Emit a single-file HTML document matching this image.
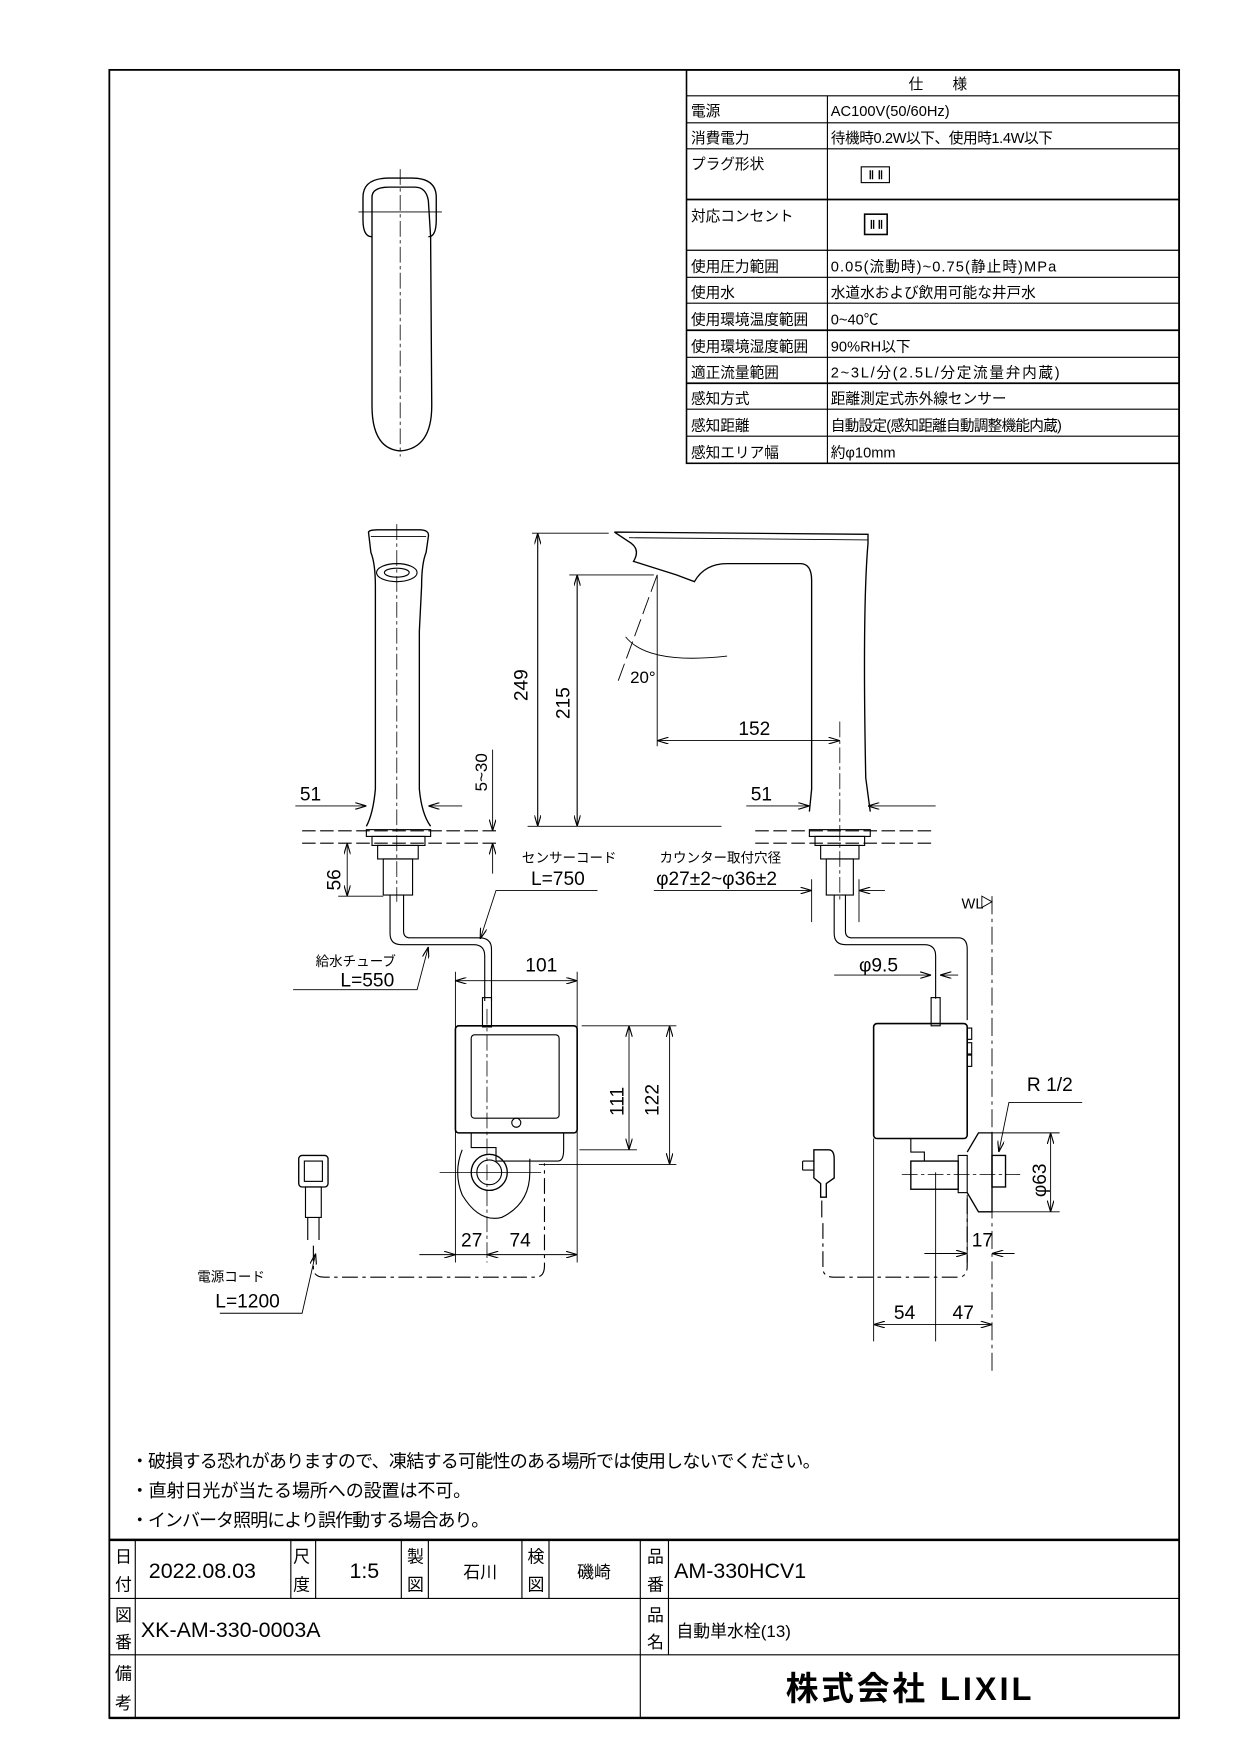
<!DOCTYPE html>
<html><head><meta charset="utf-8"><style>
html,body{margin:0;padding:0;background:#fff}
svg{display:block}
text{font-family:"Liberation Sans Narrow","Liberation Sans","Noto Sans CJK JP",sans-serif;fill:#000}
.j{font-family:"Liberation Sans","Noto Sans CJK JP",sans-serif}
</style></head><body>
<svg width="1240" height="1754" viewBox="0 0 1100 1556" preserveAspectRatio="none" xmlns="http://www.w3.org/2000/svg">
<defs>
<marker id="a" viewBox="0 0 10 6" refX="10" refY="3" markerWidth="10" markerHeight="6" orient="auto-start-reverse" markerUnits="userSpaceOnUse"><path d="M0,0 L10,3 L0,6" fill="none" stroke="#000" stroke-width="1"/></marker>
</defs>
<g fill="none" stroke="#000">
<rect x="97" y="62" width="949" height="1462" stroke-width="1.6"/>
<rect x="609" y="62" width="437" height="349" stroke-width="1.4"/>
<line x1="734" y1="85" x2="734" y2="411" stroke-width="1"/>
<g stroke-width="1">
<line x1="609" y1="85" x2="1046" y2="85"/><line x1="609" y1="109" x2="1046" y2="109"/>
<line x1="609" y1="132" x2="1046" y2="132"/><line x1="609" y1="177" x2="1046" y2="177" stroke-width="1.6"/>
<line x1="609" y1="222" x2="1046" y2="222"/><line x1="609" y1="246" x2="1046" y2="246"/>
<line x1="609" y1="269" x2="1046" y2="269"/><line x1="609" y1="293" x2="1046" y2="293" stroke-width="1.6"/>
<line x1="609" y1="317" x2="1046" y2="317"/><line x1="609" y1="340" x2="1046" y2="340" stroke-width="1.6"/>
<line x1="609" y1="363" x2="1046" y2="363"/><line x1="609" y1="387" x2="1046" y2="387"/>
</g>
<rect x="764" y="148" width="25" height="14"/><rect x="767" y="190" width="20" height="18" stroke-width="1.4"/>
<path d="M772,151 V159 M774,151 V159 M780,151 V159 M782,151 V159 M773,195 V203 M775,195 V203 M780,195 V203 M782,195 V203" stroke-width="1.2"/>
<line x1="97" y1="1366" x2="1046" y2="1366" stroke-width="2.2"/>
<line x1="97" y1="1418" x2="1046" y2="1418"/><line x1="97" y1="1468" x2="1046" y2="1468"/>
<line x1="97" y1="1524" x2="1046" y2="1524" stroke-width="2.2"/>
<line x1="120" y1="1366" x2="120" y2="1524"/>
<line x1="258" y1="1366" x2="258" y2="1418"/><line x1="280" y1="1366" x2="280" y2="1418"/>
<line x1="356" y1="1366" x2="356" y2="1418"/><line x1="380" y1="1366" x2="380" y2="1418"/>
<line x1="463" y1="1366" x2="463" y2="1418"/><line x1="487" y1="1366" x2="487" y2="1418"/>
<line x1="568" y1="1366" x2="568" y2="1524"/><line x1="593" y1="1366" x2="593" y2="1468"/>

<!-- top view -->
<path d="M330,210 Q322,210 322,195 L322,175 Q322,158 345,158 L365,158 Q387,158 387,175 L387,195 Q387,210 380,210" stroke-width="1.2"/>
<path d="M330,175 Q330,166 345,166 L368,166 Q378,166 380,178 L382,210 L383,360 Q383,398 355,400 Q330,398 330,360 Z" stroke-width="1.2"/>
<line x1="355" y1="150" x2="355" y2="405" stroke-width="0.7" stroke-dasharray="14,3,3,3"/>
<line x1="318" y1="188" x2="392" y2="188" stroke-width="0.7"/>
<!-- front view left -->
<path d="M327,473 Q326,470 335,470 L372,470 Q381,470 380,476 L378,490 Q374,500 374,520 L372,560 L372,700 Q374,722 382,733 M327,473 L329,490 Q333,500 333,520 L333,700 Q331,722 325,733" stroke-width="1.2"/>
<line x1="329" y1="476" x2="378" y2="476" stroke-width="0.8"/>
<ellipse cx="352" cy="508" rx="18" ry="8" stroke-width="1"/><ellipse cx="352" cy="508" rx="11" ry="4"/>
<line x1="352" y1="465" x2="352" y2="800" stroke-width="0.7" stroke-dasharray="14,3,3,3"/>
<rect x="325" y="736" width="57" height="6"/><rect x="330" y="742" width="47" height="8"/>
<rect x="335" y="750" width="36" height="12"/><rect x="340" y="762" width="26" height="32"/>
<path d="M268,737 H440 M268,748 H440" stroke-dasharray="12,4" stroke-width="1"/>
<path d="M670,737 H830 M670,748 H830" stroke-dasharray="12,4" stroke-width="1"/>
<path d="M346,794 V828 Q346,838 356,838 H420 Q430,838 430,848 V888 M358,794 V826 Q358,832 364,832 H425 Q436,832 436,842 V888" stroke-width="1"/>
<rect x="428" y="885" width="8" height="26"/>
<rect x="404" y="910" width="108" height="95" rx="3" stroke-width="1.4"/>
<rect x="418" y="918" width="78" height="74" rx="3"/>
<circle cx="458" cy="996" r="4"/>
<path d="M418,1005 V1018 H440 V1030 H495 Q500,1030 500,1020 V1005"/>
<circle cx="434" cy="1040" r="16" stroke-width="1.2"/><circle cx="434" cy="1040" r="11"/>
<path d="M410,1020 Q402,1040 410,1060 Q425,1085 445,1080 Q470,1068 470,1040 V1028"/>
<line x1="432" y1="895" x2="432" y2="1120" stroke-width="0.7" stroke-dasharray="14,3,3,3"/>
<line x1="390" y1="1040" x2="480" y2="1040" stroke-width="0.7"/>
<rect x="265" y="1025" width="26" height="28" rx="3" stroke-width="1.2"/>
<rect x="270" y="1030" width="16" height="18"/>
<path d="M271,1053 H285 V1080 H271 Z M273,1080 V1100 M283,1080 V1100" stroke-width="1"/>
<path d="M278,1105 V1125 Q278,1133 288,1133 H475 Q483,1133 483,1123 V1032" stroke-width="1" stroke-dasharray="14,4,3,4"/>
<line x1="262" y1="715" x2="325" y2="715" stroke-width="0.8" marker-end="url(#a)"/>
<line x1="410" y1="715" x2="380" y2="715" stroke-width="0.8" marker-end="url(#a)"/>
<line x1="437" y1="665" x2="437" y2="737" stroke-width="0.8" marker-end="url(#a)"/>
<line x1="437" y1="775" x2="437" y2="748" stroke-width="0.8" marker-end="url(#a)"/>
<line x1="308" y1="748" x2="308" y2="795" stroke-width="0.8" marker-start="url(#a)" marker-end="url(#a)"/>
<line x1="300" y1="795" x2="340" y2="795" stroke-width="0.8"/>
<path d="M530,790 H440 L426,833" stroke-width="0.8" marker-end="url(#a)"/>
<path d="M260,878 H370 L380,840" stroke-width="0.8" marker-end="url(#a)"/>
<line x1="404" y1="870" x2="512" y2="870" stroke-width="0.8" marker-start="url(#a)" marker-end="url(#a)"/>
<line x1="404" y1="862" x2="404" y2="1120" stroke-width="0.8"/><line x1="512" y1="862" x2="512" y2="1120" stroke-width="0.8"/>
<line x1="516" y1="910" x2="600" y2="910" stroke-width="0.8"/>
<line x1="514" y1="1020" x2="565" y2="1020" stroke-width="0.8"/><line x1="478" y1="1033" x2="600" y2="1033" stroke-width="0.8"/>
<line x1="558" y1="910" x2="558" y2="1020" stroke-width="0.8" marker-start="url(#a)" marker-end="url(#a)"/>
<line x1="594" y1="910" x2="594" y2="1033" stroke-width="0.8" marker-start="url(#a)" marker-end="url(#a)"/>
<line x1="372" y1="1113" x2="404" y2="1113" stroke-width="0.8" marker-end="url(#a)"/>
<line x1="432" y1="1113" x2="512" y2="1113" stroke-width="0.8" marker-start="url(#a)" marker-end="url(#a)"/>
<line x1="404" y1="1113" x2="432" y2="1113" stroke-width="0.8"/>
<path d="M195,1165 H268 L280,1112" stroke-width="0.8" marker-end="url(#a)"/>
<line x1="472" y1="473" x2="540" y2="473" stroke-width="0.8"/>
<line x1="505" y1="510" x2="580" y2="510" stroke-width="0.8"/>
<line x1="468" y1="733" x2="640" y2="733" stroke-width="0.8"/>
<line x1="477" y1="473" x2="477" y2="733" stroke-width="1" marker-start="url(#a)" marker-end="url(#a)"/>
<line x1="512" y1="510" x2="512" y2="733" stroke-width="1" marker-start="url(#a)" marker-end="url(#a)"/>
<!-- right faucet -->
<path d="M545,472 L770,474 L770,482 Q765,540 768,690 L772,720 M545,472 L560,482 Q568,488 562,498 L600,510 L616,516 Q625,500 645,500 L710,500 Q720,500 720,515 L720,700 L718,720" stroke-width="1.2"/>
<line x1="558" y1="477" x2="770" y2="479" stroke-width="0.8"/>
<line x1="583" y1="510" x2="583" y2="662" stroke-width="0.8"/>
<path d="M583,510 L548,605" stroke-width="0.8" stroke-dasharray="16,5"/>
<path d="M555,565 Q575,590 645,582" stroke-width="0.8"/>
<line x1="583" y1="657" x2="745" y2="657" stroke-width="0.8" marker-start="url(#a)" marker-end="url(#a)"/>
<line x1="745" y1="640" x2="745" y2="800" stroke-width="0.7" stroke-dasharray="14,3,3,3"/>
<rect x="718" y="736" width="54" height="6"/><rect x="723" y="742" width="44" height="8"/>
<rect x="728" y="750" width="34" height="12"/><rect x="733" y="762" width="24" height="32"/>
<line x1="662" y1="715" x2="718" y2="715" stroke-width="0.8" marker-end="url(#a)"/>
<line x1="830" y1="715" x2="770" y2="715" stroke-width="0.8" marker-end="url(#a)"/>
<line x1="580" y1="790" x2="720" y2="790" stroke-width="0.8" marker-end="url(#a)"/>
<line x1="720" y1="780" x2="720" y2="818" stroke-width="0.8"/><line x1="762" y1="780" x2="762" y2="818" stroke-width="0.8"/>
<line x1="785" y1="790" x2="762" y2="790" stroke-width="0.8" marker-end="url(#a)"/>
<path d="M740,794 V828 Q740,838 750,838 H820 Q830,838 830,848 V886 M750,794 V826 Q750,832 756,832 H850 Q858,832 858,842 V905" stroke-width="1"/>
<line x1="740" y1="865" x2="826" y2="865" stroke-width="0.8" marker-end="url(#a)"/>
<line x1="850" y1="865" x2="834" y2="865" stroke-width="0.8" marker-end="url(#a)"/>
<rect x="826" y="885" width="8" height="25"/>
<rect x="775" y="908" width="83" height="102" rx="3" stroke-width="1.4"/>
<rect x="858" y="912" width="4" height="10"/><rect x="858" y="925" width="4" height="10"/><rect x="858" y="936" width="4" height="10"/>
<path d="M808,1010 V1022 H820 V1030"/>
<rect x="808" y="1030" width="42" height="25" stroke-width="1.2"/>
<rect x="850" y="1025" width="8" height="33"/>
<path d="M858,1022 L868,1005 L880,1005 L880,1075 L868,1075 L858,1058" stroke-width="1.2"/>
<rect x="880" y="1025" width="12" height="28" stroke-width="1.2"/>
<line x1="800" y1="1042" x2="905" y2="1042" stroke-width="0.7" stroke-dasharray="14,3,3,3"/>
<path d="M712,1030 H722 M712,1038 H722 M712,1030 V1038" stroke-width="1"/>
<path d="M722,1020 H735 Q740,1020 740,1028 V1045 L733,1050 V1062 H728 V1050 L722,1045 Z" stroke-width="1.2"/>
<path d="M729,1065 V1080" stroke-width="1"/>
<path d="M730,1085 V1125 Q730,1133 740,1133 H850 Q858,1133 858,1123 V1060" stroke-width="1" stroke-dasharray="14,4,3,4"/>
<line x1="880" y1="795" x2="880" y2="1220" stroke-width="0.8" stroke-dasharray="16,4,3,4"/>
<path d="M871,795 L880,800 L871,805 Z" stroke-width="0.8"/>
<line x1="775" y1="1010" x2="775" y2="1190" stroke-width="0.8"/>
<line x1="830" y1="1040" x2="830" y2="1190" stroke-width="0.8"/>
<line x1="858" y1="1060" x2="858" y2="1120" stroke-width="0.8"/>
<line x1="775" y1="1175" x2="880" y2="1175" stroke-width="0.8" marker-start="url(#a)" marker-end="url(#a)"/>
<line x1="820" y1="1112" x2="858" y2="1112" stroke-width="0.8" marker-end="url(#a)"/>
<line x1="900" y1="1112" x2="880" y2="1112" stroke-width="0.8" marker-end="url(#a)"/>
<line x1="880" y1="1005" x2="940" y2="1005" stroke-width="0.8"/><line x1="880" y1="1075" x2="940" y2="1075" stroke-width="0.8"/>
<line x1="932" y1="1005" x2="932" y2="1075" stroke-width="0.8" marker-start="url(#a)" marker-end="url(#a)"/>
<path d="M960,978 H895 L886,1022" stroke-width="0.8" marker-end="url(#a)"/>
</g>

<g font-size="13">
<text x="806" y="79" class="j">仕　　様</text>
<text x="613" y="103" class="j">電源</text><text x="737" y="103">AC100V(50/60Hz)</text>
<text x="613" y="127" class="j">消費電力</text><text x="737" y="127" class="j" textLength="197">待機時0.2W以下、使用時1.4W以下</text>
<text x="613" y="150" class="j">プラグ形状</text>
<text x="613" y="196" class="j">対応コンセント</text>
<text x="613" y="241" class="j">使用圧力範囲</text><text x="737" y="241" class="j" textLength="200">0.05(流動時)~0.75(静止時)MPa</text>
<text x="613" y="264" class="j">使用水</text><text x="737" y="264" class="j">水道水および飲用可能な井戸水</text>
<text x="613" y="288" class="j">使用環境温度範囲</text><text x="737" y="288">0~40℃</text>
<text x="613" y="312" class="j">使用環境湿度範囲</text><text x="737" y="312" class="j">90%RH以下</text>
<text x="613" y="335" class="j">適正流量範囲</text><text x="737" y="335" class="j" textLength="203">2~3L/分(2.5L/分定流量弁内蔵)</text>
<text x="613" y="358" class="j">感知方式</text><text x="737" y="358" class="j">距離測定式赤外線センサー</text>
<text x="613" y="382" class="j">感知距離</text><text x="737" y="382" class="j" textLength="205">自動設定(感知距離自動調整機能内蔵)</text>
<text x="613" y="406" class="j">感知エリア幅</text><text x="737" y="406" class="j">約φ10mm</text>
</g>
<g font-size="17">
<text x="266" y="710">51</text><text x="666" y="710">51</text>
<text x="655" y="652">152</text>
<text x="559" y="606" font-size="15">20°</text>
<text transform="translate(468,622) rotate(-90)">249</text>
<text transform="translate(505,638) rotate(-90)">215</text>
<text transform="translate(432,702) rotate(-90)" font-size="15">5~30</text>
<text transform="translate(302,790) rotate(-90)">56</text>
<text x="466" y="862">101</text>
<text transform="translate(553,990) rotate(-90)">111</text>
<text transform="translate(584,990) rotate(-90)">122</text>
<text x="409" y="1106">27</text><text x="452" y="1106">74</text>
<text x="762" y="862">φ9.5</text>
<text x="911" y="968">R 1/2</text>
<text transform="translate(928,1062) rotate(-90)">φ63</text>
<text x="862" y="1106">17</text>
<text x="793" y="1170">54</text><text x="845" y="1170">47</text>
<text x="853" y="806" font-size="13">WL</text>
<text x="582" y="785">φ27±2~φ36±2</text>
<text x="471" y="785">L=750</text>
<text x="302" y="875">L=550</text>
<text x="191" y="1160">L=1200</text>
</g>
<g font-size="12">
<text x="463" y="765" class="j">センサーコード</text>
<text x="585" y="765" class="j">カウンター取付穴径</text>
<text x="280" y="857" class="j">給水チューブ</text>
<text x="175" y="1137" class="j">電源コード</text>
</g>
<g font-size="16">
<text x="116" y="1302" class="j" textLength="612">・破損する恐れがありますので、凍結する可能性のある場所では使用しないでください。</text>
<text x="116" y="1328" class="j" textLength="302">・直射日光が当たる場所への設置は不可。</text>
<text x="116" y="1354" class="j" textLength="318">・インバータ照明により誤作動する場合あり。</text>
</g>
<g font-size="15">
<text x="102" y="1386" class="j">日</text><text x="102" y="1411" class="j">付</text>
<text x="260" y="1386" class="j">尺</text><text x="260" y="1411" class="j">度</text>
<text x="361" y="1386" class="j">製</text><text x="361" y="1411" class="j">図</text>
<text x="468" y="1386" class="j">検</text><text x="468" y="1411" class="j">図</text>
<text x="574" y="1386" class="j">品</text><text x="574" y="1411" class="j">番</text>
<text x="102" y="1438" class="j">図</text><text x="102" y="1462" class="j">番</text>
<text x="574" y="1438" class="j">品</text><text x="574" y="1462" class="j">名</text>
<text x="102" y="1490" class="j">備</text><text x="102" y="1516" class="j">考</text>
<text x="411" y="1400" class="j">石川</text><text x="512" y="1400" class="j">磯崎</text>
<text x="600" y="1452" class="j">自動単水栓(13)</text>
</g>
<g font-size="19">
<text x="132" y="1400">2022.08.03</text>
<text x="310" y="1400">1:5</text>
<text x="598" y="1400">AM-330HCV1</text>
<text x="125" y="1452">XK-AM-330-0003A</text>
</g>
<text x="697" y="1508" font-size="29" font-weight="bold" class="j" textLength="218">株式会社 LIXIL</text>
</svg>
</body></html>
